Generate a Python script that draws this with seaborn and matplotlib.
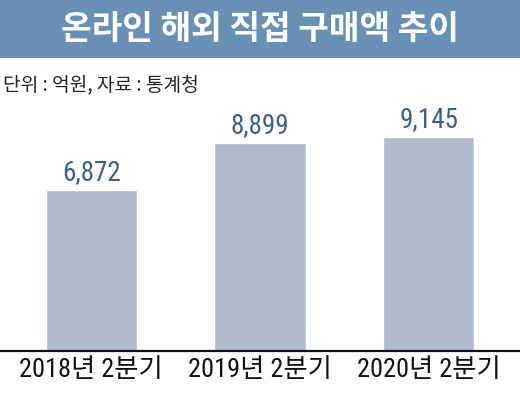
import matplotlib
matplotlib.use("Agg")
import matplotlib.pyplot as plt
import seaborn as sns
import pandas as pd
from matplotlib.patches import Rectangle
from matplotlib import font_manager

categories = ["2018년 2분기", "2019년 2분기", "2020년 2분기"]
values = [6872, 8899, 9145]
title = "온라인 해외 직접 구매액 추이"
subtitle = "단위 : 억원, 자료 : 통계청"

sns.set_theme(style="white")

names = {f.name for f in font_manager.fontManager.ttflist}
narrow = None
for cand in ["Liberation Sans Narrow", "Roboto Condensed", "DejaVu Sans Condensed",
             "Open Sans Condensed", "Liberation Sans"]:
    if cand in names:
        narrow = cand
        break
is_narrow = narrow in ("Liberation Sans Narrow", "Roboto Condensed", "DejaVu Sans Condensed",
                       "Open Sans Condensed")
num_family = [narrow, 'Noto Sans CJK KR', 'DejaVu Sans'] if narrow else ['Noto Sans CJK KR', 'DejaVu Sans']
plt.rcParams['font.family'] = num_family

df = pd.DataFrame({"period": categories, "value": values})

fig = plt.figure(figsize=(5.2, 3.96), dpi=100)
fig.patch.set_facecolor("white")

fig.patches.append(Rectangle((0, 1 - 58 / 396), 1, 58 / 396, transform=fig.transFigure,
                             facecolor="#6890b4", edgecolor="none", zorder=0))
fig.text(0.5, 1 - 30 / 396, title, ha="center", va="center", color="white",
         fontsize=24, fontweight="bold", family=['Noto Sans CJK KR', 'DejaVu Sans'])
fig.text(3 / 520, 1 - 85 / 396, subtitle, ha="left", va="center", color="#222222",
         fontsize=13.8, family=['Noto Sans CJK KR', 'DejaVu Sans'])

bottom = (396 - 351) / 396
top = (396 - 110) / 396
ax = fig.add_axes([0, bottom, 1, top - bottom])
sns.barplot(data=df, x="period", y="value", color="#b2bbcc", width=0.54,
            saturation=1, ax=ax)
ax.set_xlim(-0.54, 2.54)
ax.set_ylim(0, 10300)
ax.set_xlabel("")
ax.set_ylabel("")
ax.set_yticks([])
for s in ["top", "left", "right"]:
    ax.spines[s].set_visible(False)
ax.spines["bottom"].set_color("#111111")
ax.spines["bottom"].set_linewidth(1.6)
ax.tick_params(axis="x", length=0, pad=5, labelsize=19, labelcolor="#111111")
ax.set_facecolor("none")

labels = [f"{v:,}" for v in values]
ax.bar_label(ax.containers[0], labels=labels, padding=3,
             fontsize=19.5 if is_narrow else 18, color="#3d6088")

fig.savefig("out.png", dpi=100)
